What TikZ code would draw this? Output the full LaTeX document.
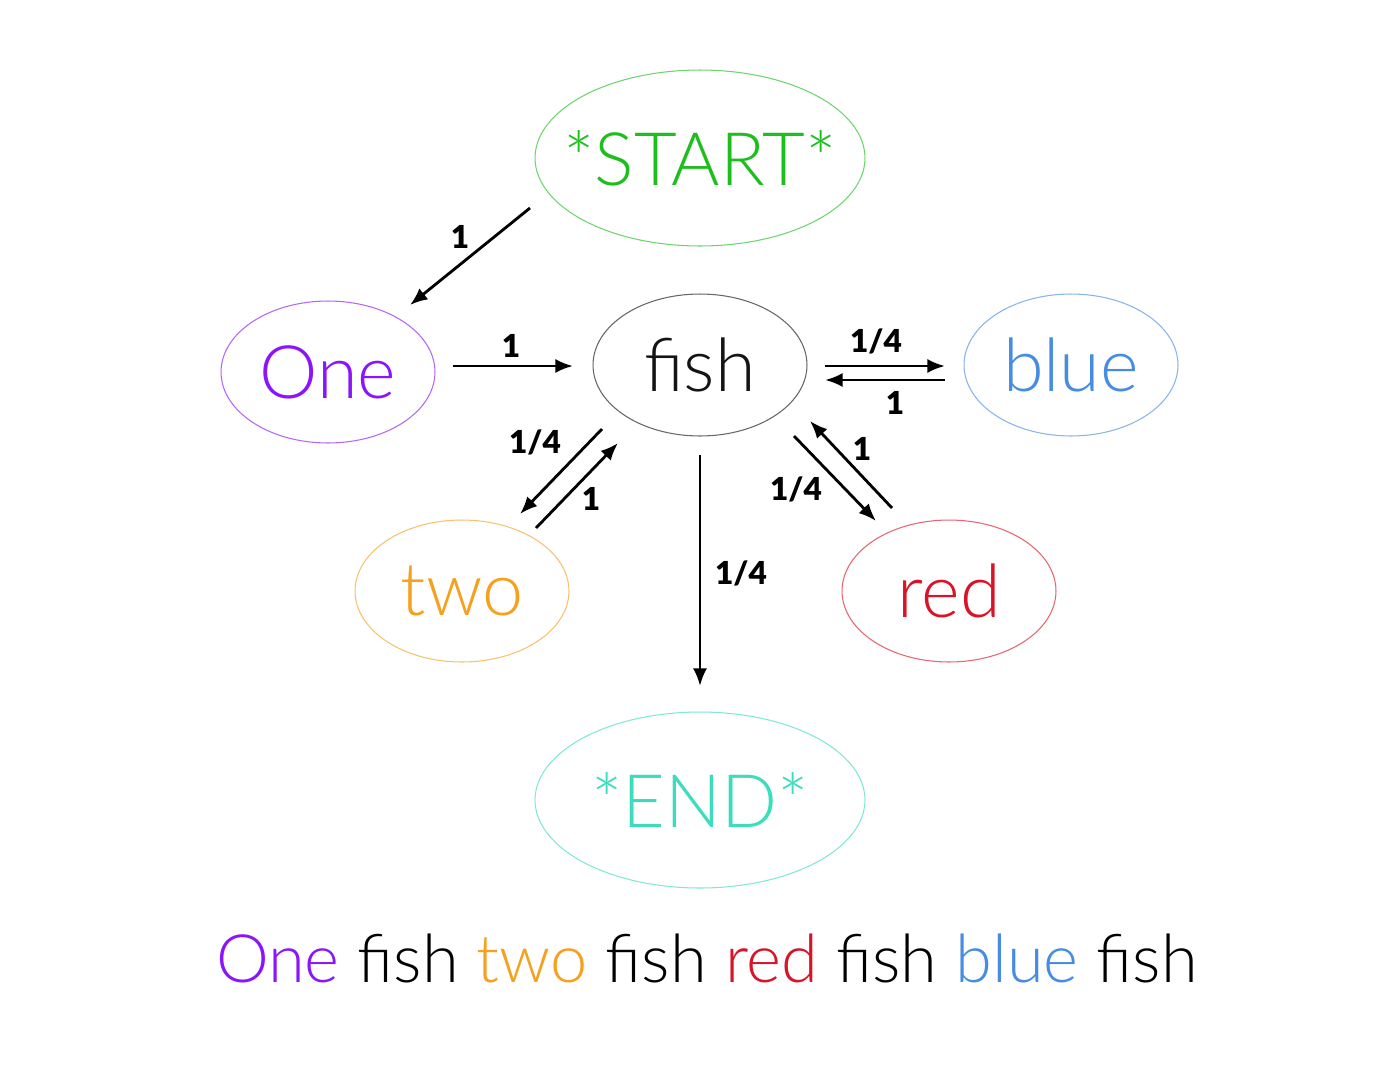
\documentclass[tikz,border=0pt]{standalone}
\usepackage{fontspec}
\setmainfont{Lato Light}
\newfontfamily\lbl{Lato Black}
\usetikzlibrary{arrows.meta,shapes.geometric}
\definecolor{cstart}{RGB}{30,190,30}
\definecolor{cone}{RGB}{140,20,250}
\definecolor{cblue}{RGB}{70,140,225}
\definecolor{ctwo}{RGB}{245,160,30}
\definecolor{cred}{RGB}{215,20,40}
\definecolor{cend}{RGB}{60,220,190}
\definecolor{cfish}{RGB}{20,20,20}
\tikzset{
 st/.style={ellipse,draw=#1!65,line width=0.6pt,text=#1,font=\fontsize{42}{48}\selectfont,inner sep=-2cm},
 small/.style={minimum width=4.28cm,minimum height=2.84cm},
 big/.style={minimum width=6.6cm,minimum height=3.52cm},
 edge/.style={-{Latex[length=10pt,width=8pt]},line width=1.6pt},
 lab/.style={font=\lbl\fontsize{18}{20}\selectfont,inner sep=0pt}
}
\begin{document}
\begin{tikzpicture}[x=0.02cm,y=-0.02cm]
\useasboundingbox (0,0) rectangle (1400,1069);
\node[st=cstart,big] (start) at (700,158) {*START*};
\node[st=cone,small] (one) at (328,372) {One};
\node[st=cfish,small,draw=black!60] (fish) at (700,365) {fish};
\node[st=cblue,small] (blue) at (1071,365) {blue};
\node[st=ctwo,small] (two) at (462,591) {two};
\node[st=cred,small] (red) at (949,591) {red};
\node[st=cend,big] (end) at (700,800) {*END*};
\coordinate (a1) at (530,208); \coordinate (a2) at (410,305);
\coordinate (b1) at (453,366); \coordinate (b2) at (573,366);
\coordinate (c1) at (825,366); \coordinate (c2) at (945,366);
\coordinate (d1) at (945,380); \coordinate (d2) at (825,380);
\coordinate (e1) at (602,429); \coordinate (e2) at (520,514);
\coordinate (f1) at (536,528); \coordinate (f2) at (618,443);
\coordinate (g1) at (794,436); \coordinate (g2) at (876,521);
\coordinate (h1) at (892,508); \coordinate (h2) at (810,421);
\coordinate (i1) at (700,455); \coordinate (i2) at (700,686);
\draw[edge] (a1) -- (a2);
\draw[edge] (b1) -- (b2);
\draw[edge] (c1) -- (c2);
\draw[edge] (d1) -- (d2);
\draw[edge] (e1) -- (e2);
\draw[edge] (f1) -- (f2);
\draw[edge] (g1) -- (g2);
\draw[edge] (h1) -- (h2);
\draw[edge] (i1) -- (i2);
\node[lab] (la) at (460,237) {1};
\node[lab] (lb) at (511,346) {1};
\node[lab] (lc) at (876,341) {1/4};
\node[lab] (ld) at (895,403) {1};
\node[lab] (le) at (535,442) {1/4};
\node[lab] (lf) at (591,499) {1};
\node[lab] (lg) at (796,489) {1/4};
\node[lab] (lh) at (862,449) {1};
\node[lab] (li) at (741,573) {1/4};
\node[font=\fontsize{38}{44}\selectfont,inner sep=0pt] (title) at (707,958) {\textcolor{cone}{One} fish \textcolor{ctwo}{two} fish \textcolor{cred}{red} fish \textcolor{cblue}{blue} fish};
\end{tikzpicture}
\end{document}
